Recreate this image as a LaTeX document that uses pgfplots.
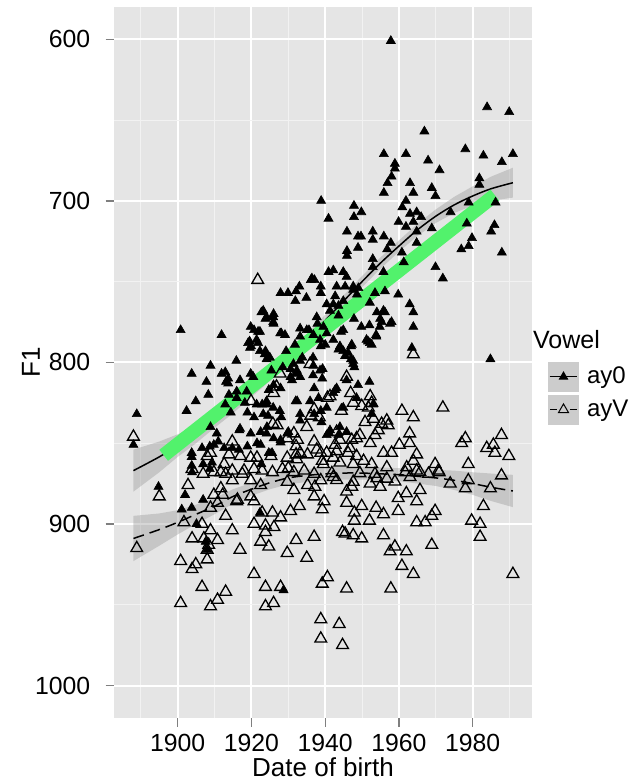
\documentclass[border=0pt]{standalone}
\usepackage{pgfplots}
\usepackage{pgfplotstable}
\pgfplotsset{compat=1.18}
\usepgfplotslibrary{fillbetween}
\usepackage{fontspec}
\setmainfont{Liberation Sans}
\definecolor{panel}{HTML}{E5E5E5}
\definecolor{minorgrid}{HTML}{F2F2F2}
\definecolor{fitgreen}{RGB}{82,242,108}
\definecolor{tickgray}{HTML}{7F7F7F}

\pgfplotstableread{
x y
1957.8 601
1983.9 642
1989.9 645
1966.9 657
1978.0 668
1955.9 671
1961.9 671
1982.9 672
1990.9 671
1967.9 675
1987.9 676
1958.9 677
1958.9 680
1971.0 681
1958.0 685
1981.8 686
1981.8 690
1956.9 689
1963.0 689
1968.9 692
1955.9 695
1963.9 695
1969.9 697
1938.9 700
1947.8 703
1961.9 700
1978.9 701
1986.2 701
1960.9 704
1949.8 707
1974.0 707
1963.0 708
1964.8 707
1966.0 710
1947.8 710
1940.9 711
1959.9 713
1963.9 713
1961.9 716
1964.8 719
1968.9 717
1945.9 719
1985.9 715
1985.0 719
1948.9 722
1949.7 722
1952.9 719
1952.9 724
1955.9 722
1957.8 726
1964.8 726
1979.8 723
1978.9 728
1976.9 730
1987.9 732
1945.9 731
1945.9 734
1948.9 729
1956.8 730
1960.8 732
1952.9 736
1969.9 741
1952.9 741
1940.9 744
1942.2 743
1944.9 744
1945.8 747
1936.4 748
1971.9 748
1978.4 714
1955.8 744
1961.3 738
1948.6 758
1936.1 749
1937.1 749
1933.0 753
1938.8 753
1927.9 757
1929.9 757
1932.1 756
1938.8 757
1931.9 762
1934.9 760
1922.7 769
1926.0 770
1923.8 773
1926.0 776
1900.8 780
1911.9 783
1919.8 778
1920.7 780
1921.8 781
1927.8 782
1929.1 783
1935.6 780
1937.9 776
1919.5 787
1919.9 790
1921.8 788
1931.8 789
1938.8 790
1923.8 793
1924.7 797
1915.9 799
1933.8 797
1936.7 797
1908.9 802
1903.8 807
1912.9 806
1913.7 810
1916.9 811
1913.7 813
1919.8 807
1930.6 804
1932.0 807
1930.6 809
1931.0 811
1936.7 808
1939.2 810
1926.0 814
1927.9 816
1924.7 817
1937.0 816
1904.9 824
1908.3 820
1913.9 820
1922.9 826
1924.2 826
1902.4 830
1888.9 832
1914.4 831
1918.9 831
1920.7 834
1932.0 824
1932.4 824
1937.0 832
1938.8 830
1916.7 842
1910.6 844
1908.9 840
1919.8 844
1922.5 843
1924.2 840
1927.9 848
1927.9 849.5
1929.7 844
1888.0 851
1903.8 856
1903.8 858.5
1906.6 853
1909.8 851
1912.6 853
1914.8 853
1916.6 854
1918.9 852
1921.5 850
1922.5 851
1924.7 856
1925.6 856
1903.8 864
1906.9 863
1909.3 862
1903.9 868
1959.8 758
1962.9 764
1963.9 769
1963.9 778
1957.6 776
1954.0 769
1954.9 773
1956.2 769
1949.8 778
1952.0 777
1953.8 783
1947.8 773
1951.6 787
1952.6 789
1944.3 781
1944.9 780
1943.6 792
1944.9 793
1946.2 794
1947.0 790
1947.0 798
1947.9 803
1939.3 804
1984.8 798
1952.0 812
1948.9 814
1943.1 816
1942.7 817
1940.4 828
1944.9 828
1952.6 832
1941.1 844
1940.4 845
1943.6 845
1943.1 753
1945.4 753
1947.6 753
1940.4 764
1942.2 764
1944.9 762
1942.7 759
1947.6 755
1943.6 765
1943.6 771
1941.3 768
1937.7 772
1939.5 778
1938.6 786
1935.0 780
1933.2 779
1936.8 783
1940.4 782
1942.2 786
1944.0 790
1945.4 796
1947.6 799
1951.2 786
1952.1 788
1953.9 784
1954.8 778
1955.8 768
1923.2 768
1924.1 772
1925.9 772
1925.9 775
1922.3 781
1919.1 788
1919.6 791
1921.4 786
1922.3 793
1923.6 795
1924.1 798
1925.0 797
1928.1 782
1933.2 784
1929.4 793
1931.4 801
1933.2 799
1932.3 805
1933.2 809
1936.8 802
1938.6 805
1945.8 811
1947.6 801
1928.5 803
1925.4 805
1920.5 809
1918.7 818
1916.0 818
1911.9 807
1913.1 812
1907.8 812
1912.9 826
1916.0 822
1918.2 825
1921.4 826
1924.1 824
1924.5 833
1927.7 830
1923.2 832
1928.1 834
1933.2 832
1935.9 824
1938.2 822
1942.2 819
1948.5 822
1953.0 826
1926.0 847
1916.9 841
1924.1 844
1933.2 836
1941.3 842
1944.0 840
1945.8 843
1908.7 852
1911.0 849
1908.7 866
1922.7 863
1894.8 877
1902.0 882
1906.9 885
1901.1 891
1903.8 890
1905.1 900
1922.3 893
1907.6 911
1908.0 916
1928.7 941
1949.0 754
1952.1 763
1953.5 757
1956.2 756
1955.3 775
1958.0 775
1940.0 789
1947.2 789
1963.5 791
1925.9 828
1930.0 843
1939.0 837
}\ayzero

\pgfplotstableread{
x y
1921.7 749
1935.9 801
1927.8 807
1926.8 815
1926.0 819
1919.9 824
1940.6 822
1937.0 829
1938.4 834
1936.1 833
1925.8 838
1927.0 839
1935.0 840
1931.5 844
1932.5 848
1929.7 847
1937.0 849
1932.1 852
1914.8 849
1908.9 856
1908.0 858
1913.9 857
1917.0 858
1919.8 859
1921.5 859
1925.3 858
1929.7 859
1932.1 857
1935.2 857
1938.8 856
1939.2 861
1903.9 866
1906.9 869
1909.8 868
1912.6 863
1911.7 868
1914.8 867
1918.0 867
1920.7 866
1922.9 867
1925.7 868
1928.4 866
1931.5 868
1934.3 867
1937.0 869
1888.0 846
1963.9 795
1945.8 809
1946.9 819
1952.2 821
1941.3 821
1947.6 825
1949.9 827
1951.7 828
1944.4 830
1952.6 825
1960.8 830
1963.9 834
1971.9 828
1950.8 837
1953.1 835
1955.3 838
1956.7 836
1957.1 839
1954.4 842
1953.5 845
1949.4 845
1952.2 850
1947.2 848
1944.0 848
1942.7 851
1962.9 844
1962.9 850
1960.1 851
1964.8 857
1963.9 861
1978.0 847
1977.0 850
1987.8 845
1983.8 853
1985.6 851
1986.0 856
1989.8 858
1978.8 863
1969.8 863
1970.7 867
1962.1 865
1964.8 867
1946.2 856
1948.5 858
1950.4 861
1947.6 863
1944.0 862
1942.2 859
1940.4 856
1939.5 863
1952.6 863
1955.8 856
1958.0 856
1953.5 869
1956.7 865
1987.8 870
1895.0 883
1888.9 915
1902.8 876
1901.7 899
1906.6 900
1908.9 904
1903.9 909
1907.1 909
1910.8 910
1908.4 913
1908.0 916
1908.0 922
1900.8 923
1903.9 928
1904.9 925
1913.0 895
1914.8 904
1916.9 916
1909.8 882
1911.7 878
1914.8 873
1916.0 886
1913.0 869
1908.9 890
1910.8 887
1920.7 931
1923.8 939
1927.9 939
1926.0 949
1923.8 951
1913.0 942
1910.8 947
1908.9 951
1906.6 939
1900.8 949
1938.8 959
1938.8 971
1939.2 937
1940.6 933
1920.7 900
1923.8 901
1926.1 902
1922.5 911
1924.7 914
1923.8 905
1929.7 918
1932.1 910
1935.0 921
1937.0 908
1927.9 896
1930.6 892
1925.7 893
1922.9 893
1933.0 889
1937.0 883
1939.2 891
1939.7 886
1938.8 873
1931.5 879
1935.2 876
1929.7 874
1919.8 883
1920.7 886
1919.8 873
1922.5 876
1916.2 885
1912.2 882
1917.5 869
1982.9 889
1979.7 898
1982.0 900
1982.0 908
1990.9 931
1978.8 873
1978.0 878
1973.9 875
1984.8 878
1969.8 892
1968.9 895
1967.1 899
1964.8 899
1968.9 913
1964.8 886
1965.7 879
1962.0 881
1963.9 931
1962.0 917
1960.8 926
1958.9 914
1957.6 917
1955.8 907
1957.8 940
1959.8 892
1959.8 884
1955.8 894
1953.8 890
1952.0 898
1949.9 889
1947.9 893
1947.9 898
1949.9 909
1947.6 907
1945.4 906
1944.7 905
1945.8 887
1945.8 880
1945.8 940
1943.8 962
1944.7 975
1942.2 871
1947.6 874
1952.2 875
1954.9 877
1956.7 872
1963.0 871
1965.7 868
1968.0 869
1970.9 868
1961.7 868
1943.1 843
1948.5 847
1933.2 856
1937.7 854
1943.1 855
1946.7 853
1932.3 860
1930.0 865.5
1941.8 868.6
1949.4 868.6
1954.0 871.7
1937.2 877
1943.1 872.8
1947.2 877
1958.9 873.8
}\ayvee

% loess fits: x, fit, lower edge (smaller F1), upper edge (larger F1)
\pgfplotstableread{
x fit lo hi
1888 867 854 880
1895 858.5 849 868
1900 851.5 844.5 858.5
1905 844.5 839 850
1910 836 831.5 840.5
1915 827.5 823.5 831.5
1920 818 814.5 821.5
1925 808 804.5 811.5
1930 797.5 794 801
1935 786 782.5 789.5
1940 774 770.5 777.5
1945 762 758.5 765.5
1950 750 746.5 753.5
1955 738.5 735 742
1960 728 724.5 731.5
1965 718 714.2 721.8
1970 709.5 705.3 713.7
1975 702.5 697.5 707.5
1980 697 691 703
1985 692.5 685 700
1990.9 688.8 679.5 698
}\fitzero

\pgfplotstableread{
x fit lo hi
1888 909 895 923
1895 903.5 893.5 913.5
1900 899 891.5 906.5
1905 894 888 900
1910 889 884 894
1915 883 878.5 887.5
1920 878.5 874.5 882.5
1925 874.5 870.5 878.5
1930 871.5 867.5 875.5
1935 870 866 874
1940 869 865 873
1945 868.5 864.5 872.5
1950 868.5 864.5 872.5
1955 869 865 873
1960 869.5 865.5 873.5
1965 870.5 866 875
1970 871.5 866.5 876.5
1975 873 867 879
1980 875 868 882
1985 877.3 868.8 885.8
1990.9 879.6 869.6 889.6
}\fitvee

\begin{document}
\begin{tikzpicture}
\begin{axis}[
  at={(0,0)}, anchor=south west,
  scale only axis, width=209bp, height=355.5bp,
  xmin=1882.81, xmax=1996.16,
  ymin=580.2, ymax=1020.3, y dir=reverse,
  axis background/.style={fill=panel},
  axis line style={draw=none},
  xtick={1900,1920,1940,1960,1980},
  ytick={600,700,800,900,1000},
  minor xtick={1890,1910,1930,1950,1970,1990},
  minor ytick={650,750,850,950},
  grid=both,
  major grid style={white, line width=1bp},
  minor grid style={minorgrid, line width=0.5bp},
  xtick pos=left, ytick pos=left,
  tick align=outside,
  major tick length=4.3bp, minor tick length=0pt,
  major tick style={tickgray, line width=0.7bp},
  minor tick style={draw=none},
  /pgf/number format/assume math mode=true,
  /pgf/number format/1000 sep={},
  ticklabel style={font=\fontsize{12.4bp}{14bp}\selectfont, inner sep=0pt},
  xticklabel style={anchor=north, yshift=-3.55bp},
  yticklabel style={anchor=east, xshift=-7.5bp},
  xlabel={Date of birth}, ylabel={F1},
  every axis x label/.style={at={(axis description cs:0.4993,0)}, anchor=base, yshift=-29.3bp, font=\fontsize{13bp}{15bp}\selectfont},
  every axis y label/.style={at={(axis description cs:-0.1993,0.5004)}, rotate=90, anchor=center, font=\fontsize{13bp}{15bp}\selectfont},
  legend style={at={(axis description cs:1.0383,0.5015)}, anchor=north west, draw=none, fill=none, inner sep=0pt, outer sep=0pt, row sep=1.5bp, column sep=4.2bp, nodes={inner sep=0pt}, font=\fontsize{12bp}{14bp}\selectfont},
  legend cell align=left,
]
\addplot[only marks, mark=triangle*, mark size=2.6bp, mark options={fill=black, draw=black, line width=0.3bp}, forget plot] table[x=x, y=y] {\ayzero};
\addplot[only marks, mark=triangle, mark size=3.4bp, mark options={draw=black, line width=0.65bp, fill=none}, forget plot] table[x=x, y=y] {\ayvee};

% ay0 smooth with band
\addplot[name path=zlo, draw=none, forget plot] table[x=x, y=lo] {\fitzero};
\addplot[name path=zhi, draw=none, forget plot] table[x=x, y=hi] {\fitzero};
\addplot[fill=black!40, fill opacity=0.4, draw=none, forget plot] fill between[of=zlo and zhi];
\addplot[black, line width=0.75bp, smooth, forget plot] table[x=x, y=fit] {\fitzero};

% ayV smooth with band
\addplot[name path=vlo, draw=none, forget plot] table[x=x, y=lo] {\fitvee};
\addplot[name path=vhi, draw=none, forget plot] table[x=x, y=hi] {\fitvee};
\addplot[fill=black!40, fill opacity=0.4, draw=none, forget plot] fill between[of=vlo and vhi];
\addplot[black, line width=0.75bp, smooth, dash pattern=on 5.5bp off 3bp, forget plot] table[x=x, y=fit] {\fitvee};

% green overlay line
\addplot[fitgreen, line width=7bp, line cap=butt, forget plot] coordinates {(1896.2,857.5) (1986.0,696.5)};

\addlegendimage{legend image code/.code={
  \fill[black!20] (0bp,-7.3bp) rectangle (14.8bp,7.3bp);
  \draw[black, line width=0.6bp] (0.5bp,0bp) -- (14.3bp,0bp);
  \path plot[mark=triangle*, mark size=2.4bp, mark options={fill=black, draw=black}] coordinates {(7.4bp,0bp)};
}}
\addlegendentry{ay0}
\addlegendimage{legend image code/.code={
  \fill[black!20] (0bp,-7.3bp) rectangle (14.8bp,7.3bp);
  \draw[black, line width=0.6bp] (0.8bp,0bp) -- (4.2bp,0bp);
  \draw[black, line width=0.6bp] (10.6bp,0bp) -- (14bp,0bp);
  \path plot[mark=triangle, mark size=2.9bp, mark options={draw=black, line width=0.5bp, fill=none}] coordinates {(7.4bp,0bp)};
}}
\addlegendentry{ayV}
\end{axis}
\node[anchor=base west, inner sep=0pt, font=\fontsize{12.5bp}{14bp}\selectfont] at (209.2bp,185bp) {Vowel};
\pgfresetboundingbox
\path[use as bounding box] (-57.15bp,-31.35bp) rectangle (260.35bp,359.15bp);
\end{tikzpicture}
\end{document}
